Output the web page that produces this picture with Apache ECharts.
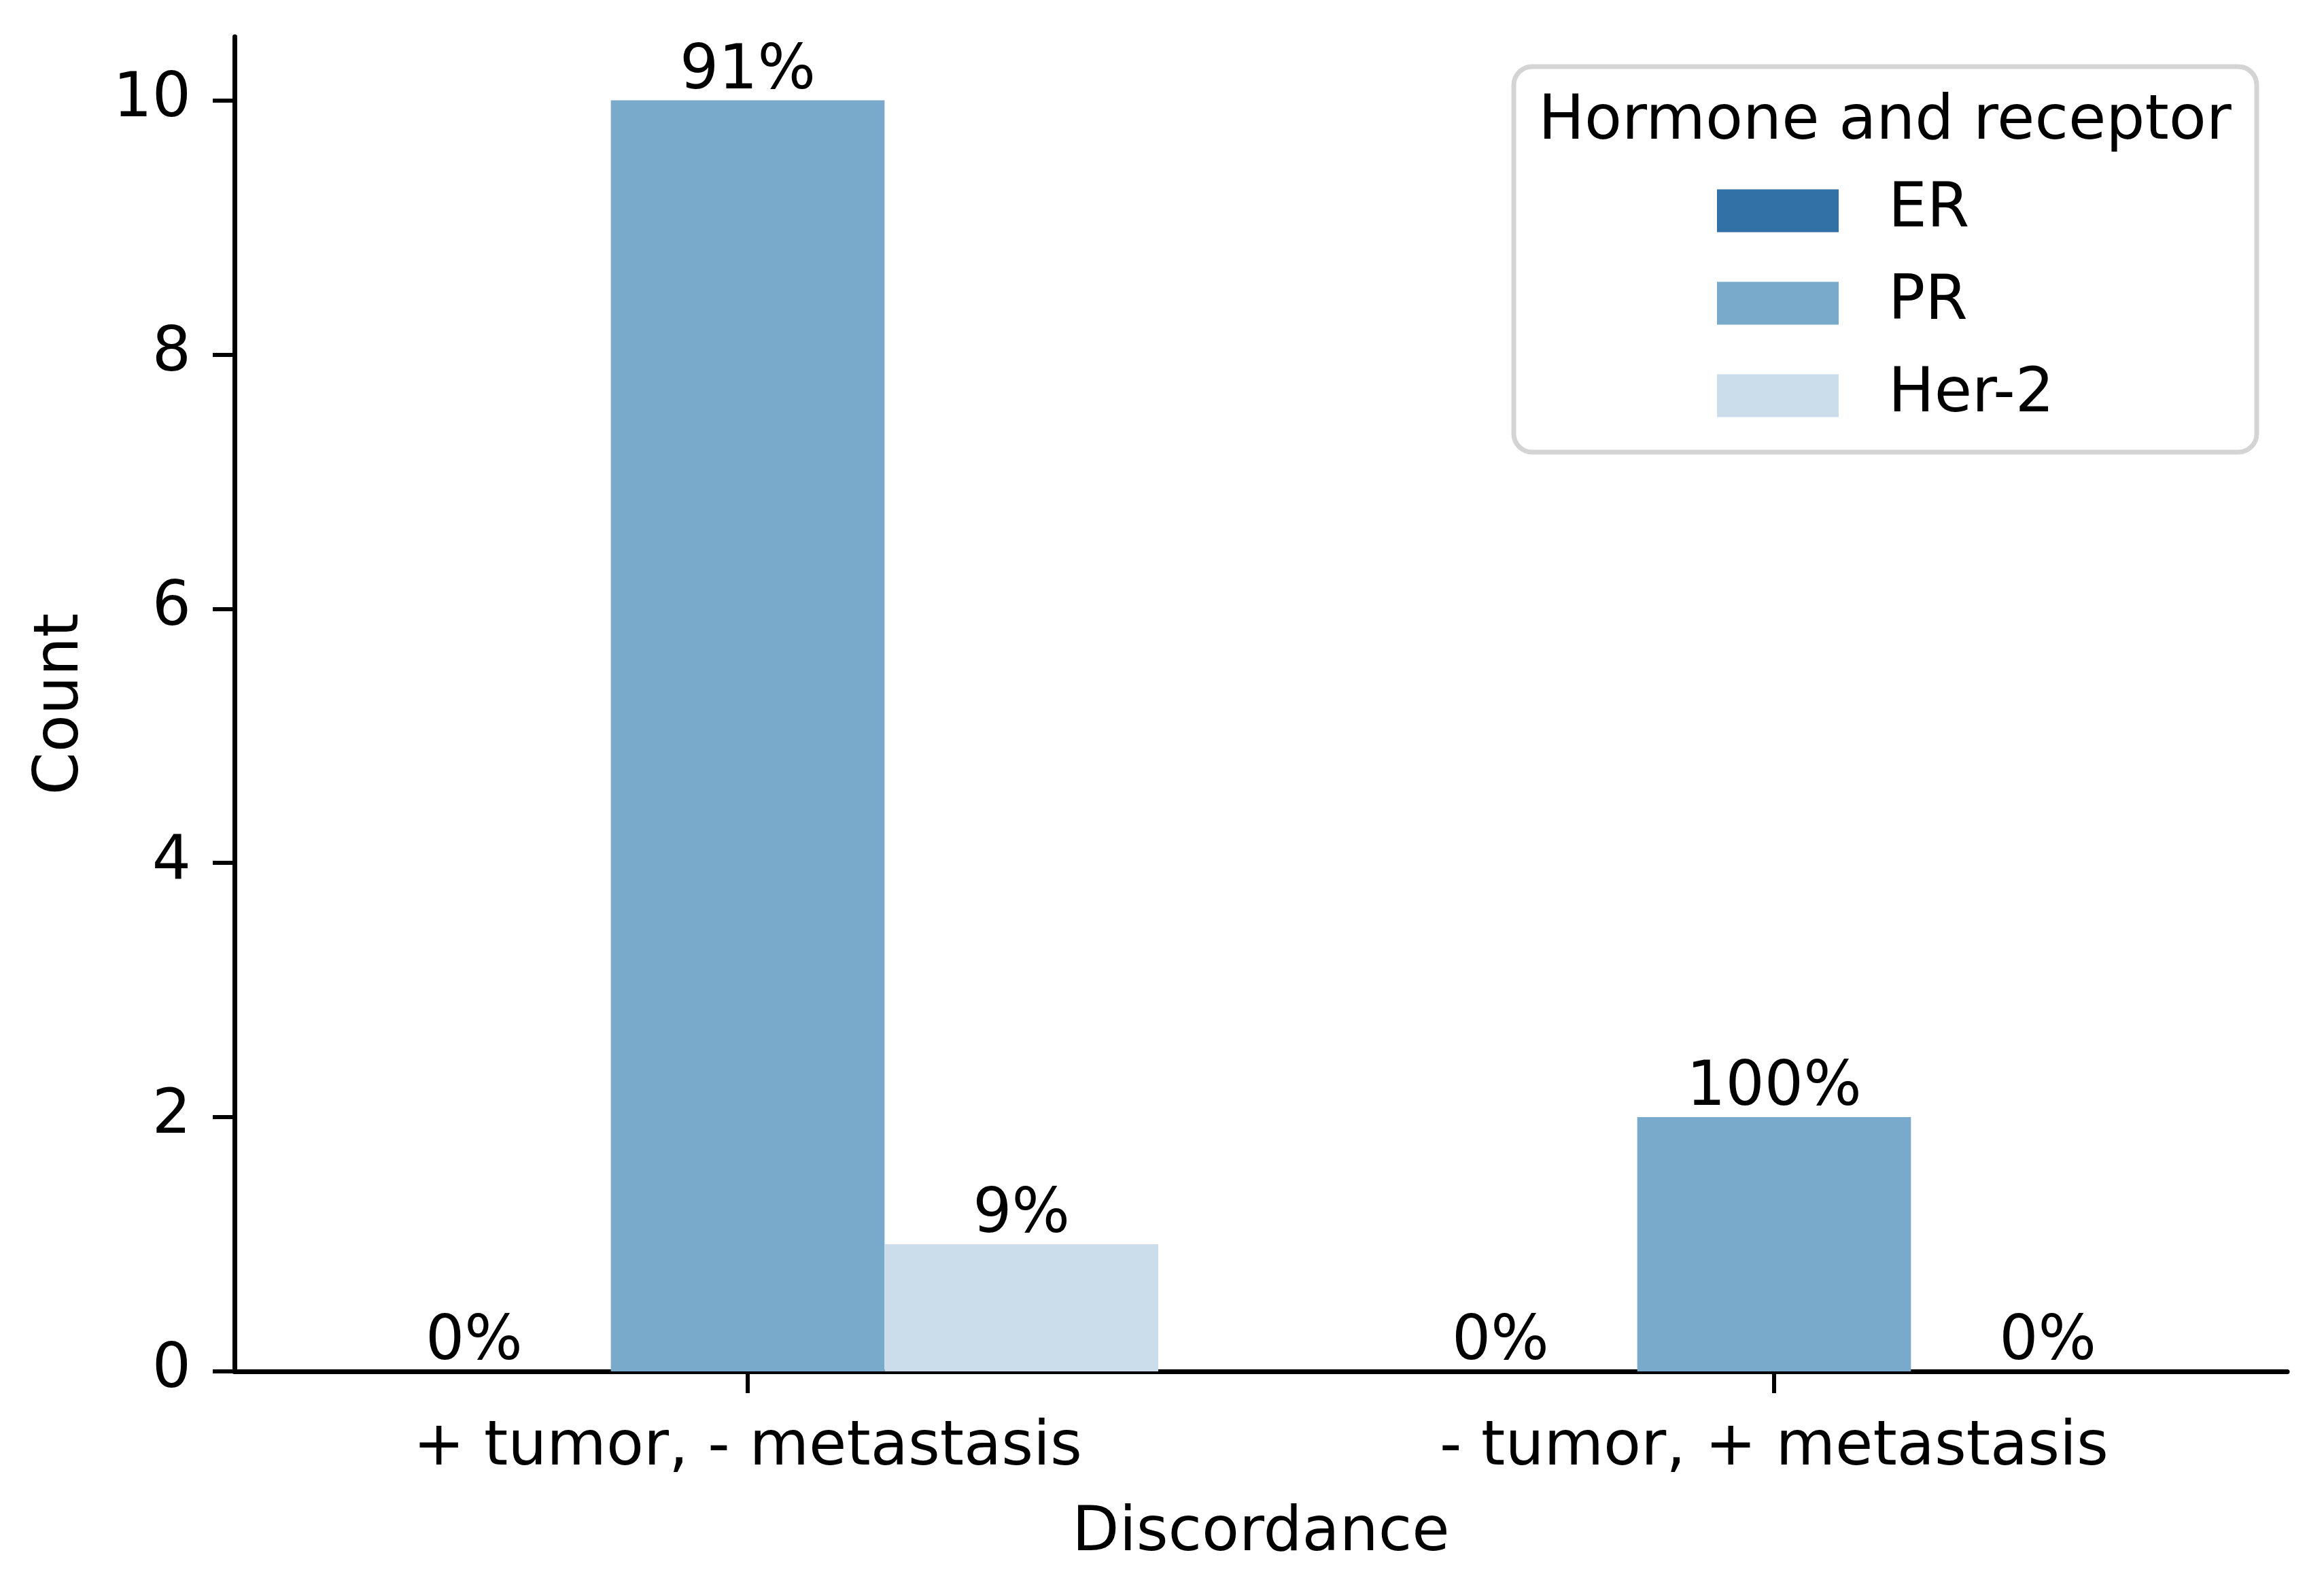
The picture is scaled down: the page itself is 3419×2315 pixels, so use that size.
<!DOCTYPE html>
<html>
<head>
<meta charset="utf-8">
<script src="https://cdn.jsdelivr.net/npm/echarts@6/dist/echarts.min.js"></script>
<style>
  html, body { margin: 0; padding: 0; background: #ffffff; }
  #chart { width: 3419px; height: 2315px; }
</style>
</head>
<body>
<div id="chart"></div>
<script>
// ---- data ----
const categories = ['+ tumor, - metastasis', '- tumor, + metastasis'];
const seriesNames = ['ER', 'PR', 'Her-2'];
const erCounts = [0, 0];
const prCounts = [10, 2];
const her2Counts = [1, 0];
const yTicks = [0, 2, 4, 6, 8, 10];
const yMax = 10.5;
const legendTitle = 'Hormone and receptor';
const xAxisName = 'Discordance';
const yAxisName = 'Count';

const seriesColors = ['#3171a5', '#7aaacb', '#cbdcea'];
const allCounts = [erCounts, prCounts, her2Counts];
const totals = categories.map((c, i) => allCounts.reduce((s, arr) => s + arr[i], 0));

const FONT = 'DejaVu Sans';
const FS = 90;

const chart = echarts.init(document.getElementById('chart'), null, { renderer: 'canvas' });

const series = seriesNames.map((name, k) => ({
  name: name,
  type: 'bar',
  data: allCounts[k],
  barGap: '0%',
  barCategoryGap: '20%',
  itemStyle: { color: seriesColors[k] },
  label: {
    show: true,
    position: 'top',
    distance: -4,
    fontFamily: FONT,
    fontSize: FS,
    lineHeight: FS,
    color: '#000',
    formatter: function (p) {
      const t = totals[p.dataIndex];
      return (t ? Math.round(p.value / t * 100) : 0) + '%';
    }
  }
}));

const option = {
  backgroundColor: '#ffffff',
  animation: false,
  textStyle: { fontFamily: FONT },
  grid: { left: 345, right: 54, top: 54, bottom: 298, containLabel: false },
  xAxis: {
    type: 'category',
    data: categories,
    boundaryGap: true,
    name: xAxisName,
    nameLocation: 'middle',
    nameGap: 195,
    nameTextStyle: { fontFamily: FONT, fontSize: FS, lineHeight: FS, color: '#000' },
    axisLine: { show: true, lineStyle: { color: '#000', width: 7 } },
    axisTick: { show: true, alignWithLabel: true, length: 32, lineStyle: { color: '#000', width: 6 } },
    axisLabel: { fontFamily: FONT, fontSize: FS, lineHeight: FS, color: '#000', margin: 69 },
    splitLine: { show: false }
  },
  yAxis: {
    type: 'value',
    min: 0,
    max: yMax,
    interval: 2,
    name: yAxisName,
    nameLocation: 'middle',
    nameGap: 209,
    nameRotate: 90,
    nameTextStyle: { fontFamily: FONT, fontSize: FS, lineHeight: FS, color: '#000' },
    axisLine: { show: true, lineStyle: { color: '#000', width: 7 } },
    axisTick: { show: true, length: 32, customValues: yTicks, lineStyle: { color: '#000', width: 6 } },
    axisLabel: { fontFamily: FONT, fontSize: FS, lineHeight: FS, color: '#000', margin: 64, padding: [12, 0, 0, 0], customValues: yTicks },
    splitLine: { show: false }
  },
  legend: {
    data: seriesNames,
    orient: 'vertical',
    left: 2526,
    top: 257,
    padding: 0,
    itemWidth: 179,
    itemHeight: 63,
    itemGap: 30,
    icon: 'rect',
    selectedMode: false,
    textStyle: { fontFamily: FONT, fontSize: FS, lineHeight: FS, color: '#000', padding: [16, 0, 0, 68] }
  },
  graphic: [
    {
      type: 'rect',
      z: 0,
      shape: { x: 2227, y: 98, width: 1093, height: 567, r: 27 },
      style: { fill: '#ffffff', stroke: '#d4d4d4', lineWidth: 7 }
    },
    {
      type: 'text',
      z: 1,
      style: {
        text: legendTitle,
        x: 2773,
        y: 181,
        textAlign: 'center',
        textVerticalAlign: 'middle',
        fontFamily: FONT,
        fontSize: FS,
        fill: '#000'
      }
    }
  ],
  series: series
};

chart.setOption(option);
</script>
</body>
</html>
